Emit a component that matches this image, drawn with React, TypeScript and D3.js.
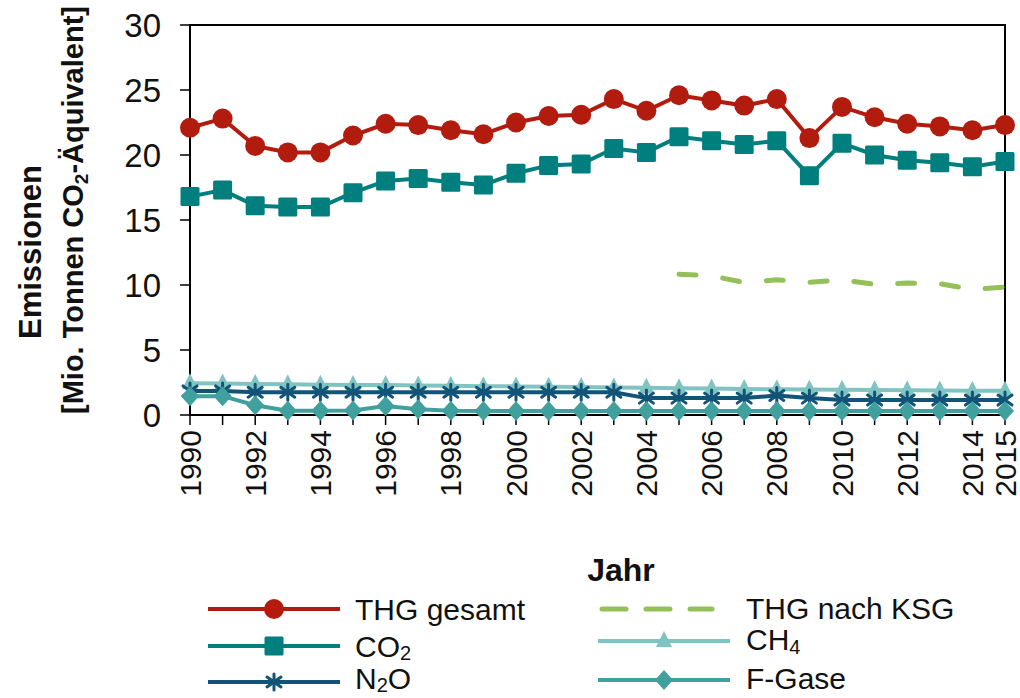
import React from 'react';
import * as d3 from 'd3';

const years = [1990, 1991, 1992, 1993, 1994, 1995, 1996, 1997, 1998, 1999, 2000, 2001, 2002,
  2003, 2004, 2005, 2006, 2007, 2008, 2009, 2010, 2011, 2012, 2013, 2014, 2015];
const labelYears = [1990, 1992, 1994, 1996, 1998, 2000, 2002, 2004, 2006, 2008, 2010, 2012, 2014, 2015];
const yTicks = [0, 5, 10, 15, 20, 25, 30];

const thgGesamt = [22.1, 22.8, 20.7, 20.2, 20.2, 21.5, 22.4, 22.3, 21.9, 21.6, 22.5, 23.0, 23.1,
  24.3, 23.4, 24.6, 24.2, 23.8, 24.3, 21.3, 23.7, 22.9, 22.4, 22.2, 21.9, 22.3];
const co2 = [16.8, 17.3, 16.1, 16.0, 16.0, 17.1, 18.0, 18.2, 17.9, 17.7, 18.6, 19.2, 19.3,
  20.5, 20.2, 21.4, 21.1, 20.8, 21.1, 18.4, 20.9, 20.0, 19.6, 19.4, 19.1, 19.5];
const ch4 = [2.45, 2.42, 2.38, 2.36, 2.33, 2.31, 2.3, 2.27, 2.25, 2.22, 2.2, 2.17, 2.15,
  2.12, 2.09, 2.06, 2.03, 2.0, 1.98, 1.96, 1.94, 1.92, 1.9, 1.89, 1.87, 1.86];
const n2o = [1.85, 1.85, 1.75, 1.75, 1.75, 1.75, 1.75, 1.75, 1.75, 1.75, 1.75, 1.75, 1.75,
  1.75, 1.3, 1.3, 1.3, 1.3, 1.5, 1.3, 1.15, 1.15, 1.15, 1.15, 1.15, 1.15];
const fGase = [1.45, 1.45, 0.75, 0.33, 0.33, 0.35, 0.7, 0.45, 0.33, 0.3, 0.3, 0.3, 0.3,
  0.3, 0.3, 0.3, 0.3, 0.3, 0.3, 0.3, 0.3, 0.3, 0.3, 0.3, 0.3, 0.3];
const ksgYears = [2005, 2006, 2007, 2008, 2009, 2010, 2011, 2012, 2013, 2014, 2015];
const thgKsg = [10.83, 10.7, 10.2, 10.4, 10.2, 10.4, 10.05, 10.15, 10.1, 9.65, 9.85];

const C = {
  thg: '#b21c0e',
  co2: '#007f7e',
  ch4: '#80c4c2',
  n2o: '#125378',
  fgase: '#40a09d',
  ksg: '#93c157',
};

const FONT = 'Liberation Sans, Arial, sans-serif';

const left = 190, right = 1005, top = 25, bottom = 415;
const x = d3.scaleLinear().domain([1990, 2015]).range([left, right]);
const y = d3.scaleLinear().domain([0, 30]).range([bottom, top]);

type Kind = 'circle' | 'square' | 'triangle' | 'star' | 'diamond';

function Marker({ kind, cx, cy, color }: { kind: Kind; cx: number; cy: number; color: string }) {
  if (kind === 'circle') return <circle cx={cx} cy={cy} r={10} fill={color} />;
  if (kind === 'square') return <rect x={cx - 9.5} y={cy - 9.5} width={19} height={19} rx={1.5} fill={color} />;
  if (kind === 'triangle') {
    return <path d={`M${cx},${cy - 10}L${cx + 8},${cy + 6}L${cx - 8},${cy + 6}Z`} fill={color} />;
  }
  if (kind === 'diamond') {
    return <path d={`M${cx},${cy - 10}L${cx + 9},${cy}L${cx},${cy + 10}L${cx - 9},${cy}Z`} fill={color} />;
  }
  // asterisk
  return (
    <path
      d={`M${cx},${cy - 8}V${cy + 8}M${cx - 7},${cy - 5}L${cx + 7},${cy + 5}M${cx - 7},${cy + 5}L${cx + 7},${cy - 5}`}
      stroke={color}
      strokeWidth={3}
      strokeLinecap="round"
    />
  );
}

const series: { key: string; values: number[]; color: string; kind: Kind }[] = [
  { key: 'thg', values: thgGesamt, color: C.thg, kind: 'circle' },
  { key: 'co2', values: co2, color: C.co2, kind: 'square' },
  { key: 'ch4', values: ch4, color: C.ch4, kind: 'triangle' },
  { key: 'n2o', values: n2o, color: C.n2o, kind: 'star' },
  { key: 'fgase', values: fGase, color: C.fgase, kind: 'diamond' },
];

const line = d3.line<[number, number]>().x(d => x(d[0])).y(d => y(d[1]));

export default function App() {
  const legendLeft = [
    { label: 'THG gesamt', color: C.thg, kind: 'circle' as Kind, sub: null, y: 609, ty: 609 },
    { label: 'CO', color: C.co2, kind: 'square' as Kind, sub: '2', tail: '', y: 646, ty: 646 },
    { label: 'N', color: C.n2o, kind: 'star' as Kind, sub: '2', tail: 'O', y: 682, ty: 678 },
  ];
  const legendRight = [
    { label: 'CH', color: C.ch4, kind: 'triangle' as Kind, sub: '4', tail: '', y: 641 },
    { label: 'F-Gase', color: C.fgase, kind: 'diamond' as Kind, sub: null, y: 680 },
  ];

  return (
    <svg width={1020} height={698} style={{ position: 'absolute', left: 0, top: 0, background: '#fff' }}
      fontFamily={FONT}>
      {/* y axis ticks */}
      {yTicks.map(t => (
        <g key={t}>
          <line x1={left - 10} x2={left} y1={y(t)} y2={y(t)} stroke="#000" strokeWidth={1.5} />
          <text x={left - 29} y={y(t)} textAnchor="end" dominantBaseline="central" fontSize={33} fill="#111">{t}</text>
        </g>
      ))}
      {/* x ticks */}
      {years.map(yr => (
        <line key={yr} x1={x(yr)} x2={x(yr)} y1={bottom} y2={bottom + 10} stroke="#000" strokeWidth={1.5} />
      ))}
      {labelYears.map(yr => (
        <text key={yr} transform={`translate(${x(yr)},${bottom + 15}) rotate(-90)`} textAnchor="end"
          dominantBaseline="central" fontSize={30} fill="#111">{yr}</text>
      ))}
      <rect x={left} y={top} width={right - left} height={bottom - top} fill="none" stroke="#000" strokeWidth={2} />

      {/* series */}
      <path d={line(ksgYears.map((yr, i) => [yr, thgKsg[i]]) as [number, number][]) || ''} fill="none"
        stroke={C.ksg} strokeWidth={5} strokeDasharray="17 27" strokeLinecap="round" />
      {series.map(s => (
        <g key={s.key}>
          <path d={line(years.map((yr, i) => [yr, s.values[i]]) as [number, number][]) || ''} fill="none"
            stroke={s.color} strokeWidth={4} />
          {years.map((yr, i) => (
            <Marker key={yr} kind={s.kind} cx={x(yr)} cy={y(s.values[i])} color={s.color} />
          ))}
        </g>
      ))}

      {/* axis titles */}
      <text transform="translate(30,252) rotate(-90)" textAnchor="middle" dominantBaseline="central"
        fontSize={31} fontWeight="bold" fill="#111">Emissionen</text>
      <text transform="translate(73,210) rotate(-90)" textAnchor="middle" dominantBaseline="central"
        fontSize={29} fontWeight="bold" fill="#111">
        [Mio. Tonnen CO<tspan fontSize={19} dy={8}>2</tspan><tspan dy={-8}>-Äquivalent]</tspan>
      </text>
      <text x={621} y={581} textAnchor="middle" fontSize={32} fontWeight="bold" fill="#111">Jahr</text>

      {/* legend */}
      {legendLeft.map(l => (
        <g key={l.label}>
          <line x1={208} x2={340} y1={l.y} y2={l.y} stroke={l.color} strokeWidth={4} />
          <Marker kind={l.kind} cx={274} cy={l.y} color={l.color} />
          <text x={355} y={l.ty} dominantBaseline="central" fontSize={30} fill="#111">
            {l.label}
            {l.sub && <tspan fontSize={20} dy={7}>{l.sub}</tspan>}
            {l.sub && l.tail && <tspan dy={-7}>{l.tail}</tspan>}
          </text>
        </g>
      ))}
      <line x1={602} x2={712} y1={609} y2={609} stroke={C.ksg} strokeWidth={5} strokeDasharray="24 20"
        strokeLinecap="round" />
      <text x={746} y={608} dominantBaseline="central" fontSize={30} fill="#111">THG nach KSG</text>
      {legendRight.map(l => (
        <g key={l.label}>
          <line x1={598} x2={730} y1={l.y} y2={l.y} stroke={l.color} strokeWidth={4} />
          <Marker kind={l.kind} cx={664} cy={l.y} color={l.color} />
          <text x={746} y={l.y - 2} dominantBaseline="central" fontSize={30} fill="#111">
            {l.label}
            {l.sub && <tspan fontSize={20} dy={8}>{l.sub}</tspan>}
          </text>
        </g>
      ))}
    </svg>
  );
}
